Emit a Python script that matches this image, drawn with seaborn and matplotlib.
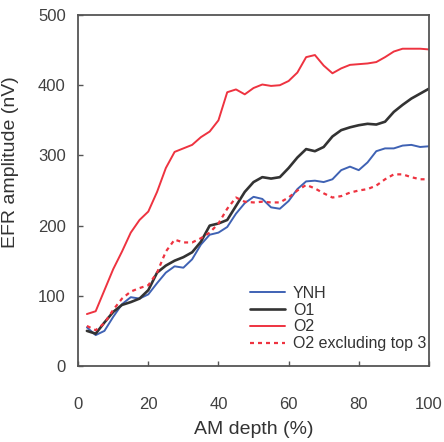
import matplotlib
matplotlib.use("Agg")
import matplotlib.pyplot as plt
import seaborn as sns
import pandas as pd

am_depth = [2.5, 5, 7.5, 10, 12.5, 15, 17.5, 20, 22.5, 25, 27.5, 30, 32.5, 35, 37.5, 40,
            42.5, 45, 47.5, 50, 52.5, 55, 57.5, 60, 62.5, 65, 67.5, 70, 72.5, 75, 77.5, 80,
            82.5, 85, 87.5, 90, 92.5, 95, 97.5, 100]

ynh = [55, 44, 50, 70, 88, 98, 96, 102, 118, 133, 142, 140, 152, 173, 187, 190,
       198, 217, 232, 241, 238, 226, 224, 235, 252, 263, 264, 262, 266, 279, 284, 279,
       290, 306, 310, 310, 314, 315, 312, 313]

o1 = [50, 46, 62, 77, 87, 91, 96, 108, 133, 143, 150, 155, 162, 177, 200, 203,
      208, 228, 248, 262, 269, 267, 269, 282, 297, 309, 306, 312, 327, 336, 340, 343,
      345, 344, 348, 362, 372, 381, 388, 395]

o2 = [74, 78, 108, 138, 163, 190, 208, 220, 248, 282, 305, 310, 315, 326, 334, 350,
      390, 394, 387, 396, 401, 399, 400, 406, 418, 440, 443, 428, 417, 424, 429, 430,
      431, 433, 440, 448, 452, 452, 452, 451]

o2_excl = [57, 51, 61, 80, 96, 106, 111, 115, 133, 163, 180, 176, 176, 182, 190, 203,
           224, 240, 234, 233, 234, 233, 233, 240, 250, 258, 253, 246, 240, 242, 247, 250,
           252, 257, 266, 273, 273, 269, 266, 266]

labels = ["YNH", "O1", "O2", "O2 excluding top 3"]
colors = ["#3f62b4", "#333333", "#ee3340", "#ee3340"]
x_ticks = [0, 20, 40, 60, 80, 100]
y_ticks = [0, 100, 200, 300, 400, 500]

sns.set_style("ticks")
plt.rcParams['font.family'] = ['Liberation Sans', 'DejaVu Sans']

fig = plt.figure(figsize=(4.44, 4.42), dpi=100)
ax = fig.add_axes([0.176, 0.172, 0.790, 0.794])

series = [ynh, o1, o2, o2_excl]
widths = [1.4, 1.9, 1.4, 1.6]
for vals, lab, col, lw in zip(series, labels, colors, widths):
    df = pd.DataFrame({"x": am_depth, "y": vals})
    sns.lineplot(data=df, x="x", y="y", ax=ax, color=col, linewidth=lw, label=lab)

lines = ax.get_lines()
for ln in lines:
    ln.set_solid_joinstyle("round")
    ln.set_dash_joinstyle("round")
lines[3].set_dashes((1.8, 1.8))

ax.set_xlim(0, 100)
ax.set_ylim(0, 500)
ax.set_xticks(x_ticks)
ax.set_yticks(y_ticks)
ax.set_xlabel("AM depth (%)", fontsize=14, color="#333333", labelpad=7)
ax.set_ylabel("EFR amplitude (nV)", fontsize=14, color="#333333", labelpad=6)
ax.yaxis.set_label_coords(-0.17, 0.581)

for s in ax.spines.values():
    s.set_color("#555555")
    s.set_linewidth(1.3)
    s.set_visible(True)

ax.tick_params(axis="both", direction="in", length=3.5, width=1, color="#555555",
               labelsize=12, labelcolor="#404040")
ax.tick_params(axis="x", pad=22)
ax.tick_params(axis="y", pad=9)

leg = ax.legend(loc="upper left", bbox_to_anchor=(0.489, 0.229), frameon=False,
                fontsize=11.5, handlelength=2.2, handletextpad=0.5,
                labelspacing=0.12, borderaxespad=0, borderpad=0)
for t in leg.get_texts():
    t.set_color("#333333")

fig.savefig("out.png", dpi=100)
